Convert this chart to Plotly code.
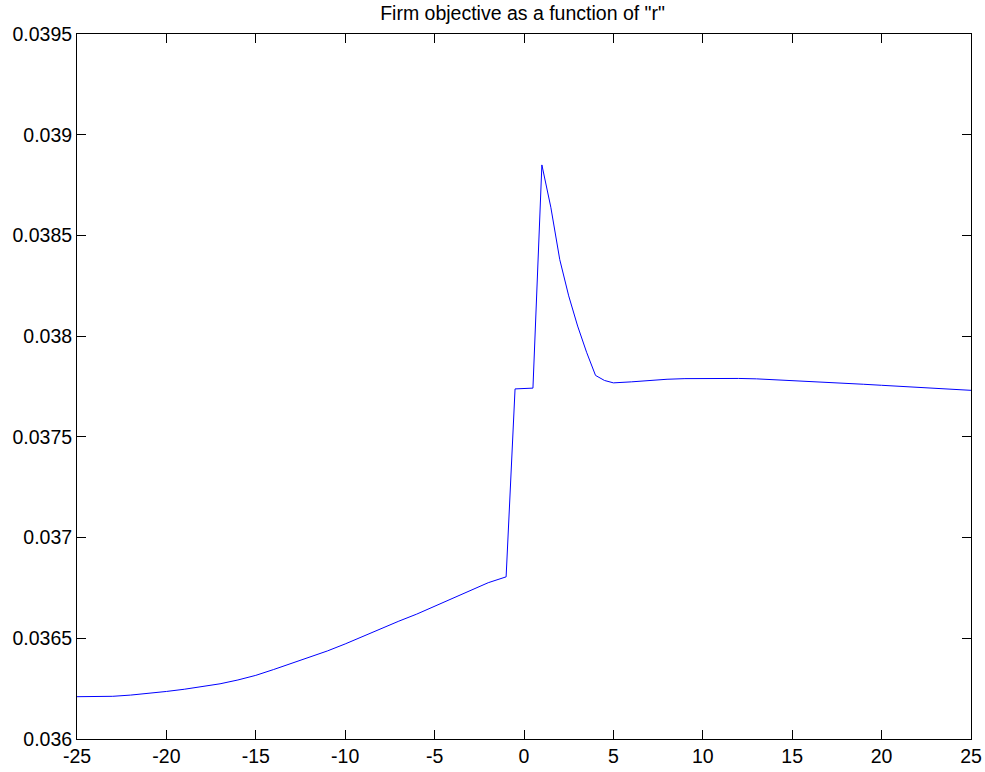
import plotly.graph_objects as go

r_values = [-25, -24, -23, -22, -21, -20, -19, -18, -17, -16, -15, -14, -13, -12, -11,
            -10, -9, -8, -7, -6, -5, -4, -3, -2, -1, -0.5, 0.5, 1, 1.5, 2, 2.5, 3, 3.5,
            4, 4.5, 5, 6, 7, 8, 9, 10, 11, 12, 13, 14, 15, 16, 17, 18, 19, 20, 21, 22,
            23, 24, 25]
objective = [0.036210, 0.036210, 0.036212, 0.036218, 0.036226, 0.036236, 0.036247,
             0.036259, 0.036274, 0.036293, 0.036316, 0.036345, 0.036376, 0.036405,
             0.036437, 0.036472, 0.036510, 0.036548, 0.036585, 0.036620, 0.036660,
             0.036699, 0.036738, 0.036776, 0.036805, 0.037738, 0.037742, 0.038850,
             0.038640, 0.038380, 0.038200, 0.038050, 0.037920, 0.037805, 0.037780,
             0.037768, 0.037773, 0.037780, 0.037786, 0.037789, 0.037790, 0.037790,
             0.037790, 0.037788, 0.037784, 0.037780, 0.037776, 0.037772, 0.037767,
             0.037761, 0.037756, 0.037751, 0.037746, 0.037740, 0.037735, 0.037731]

x_ticks = [-25, -20, -15, -10, -5, 0, 5, 10, 15, 20, 25]
x_tick_text = ["-25", "-20", "-15", "-10", "-5", "0", "5", "10", "15", "20", "25"]
y_ticks = [0.036, 0.0365, 0.037, 0.0375, 0.038, 0.0385, 0.039, 0.0395]
y_tick_text = ["0.036", "0.0365", "0.037", "0.0375", "0.038", "0.0385", "0.039", "0.0395"]

fig = go.Figure()
fig.add_trace(go.Scatter(x=r_values, y=objective, mode="lines",
                         line=dict(color="rgb(0,0,255)", width=1), showlegend=False,
                         hoverinfo="skip"))

font = dict(family="Liberation Sans, Arial, sans-serif", size=19.5, color="black")
axis_common = dict(showgrid=False, zeroline=False, showline=True, linecolor="black",
                   linewidth=1, mirror="ticks", ticks="inside", ticklen=9,
                   tickcolor="black", tickwidth=1, tickfont=font, automargin=False)

fig.update_layout(
    width=985, height=772,
    margin=dict(l=77, r=14, t=34, b=33),
    paper_bgcolor="white", plot_bgcolor="white",
    title=dict(text='Firm objective as a function of "r"', x=0.5305, xanchor="center",
               y=0.983, yanchor="middle", font=font),
    xaxis=dict(range=[-25, 25], tickvals=x_ticks, ticktext=x_tick_text, **axis_common),
    yaxis=dict(range=[0.036, 0.0395], tickvals=y_ticks, ticktext=y_tick_text, **axis_common),
)

fig.write_html("out.html", config={"displayModeBar": False},
               post_script="document.body.style.margin='0px';document.body.style.overflow='hidden';")
